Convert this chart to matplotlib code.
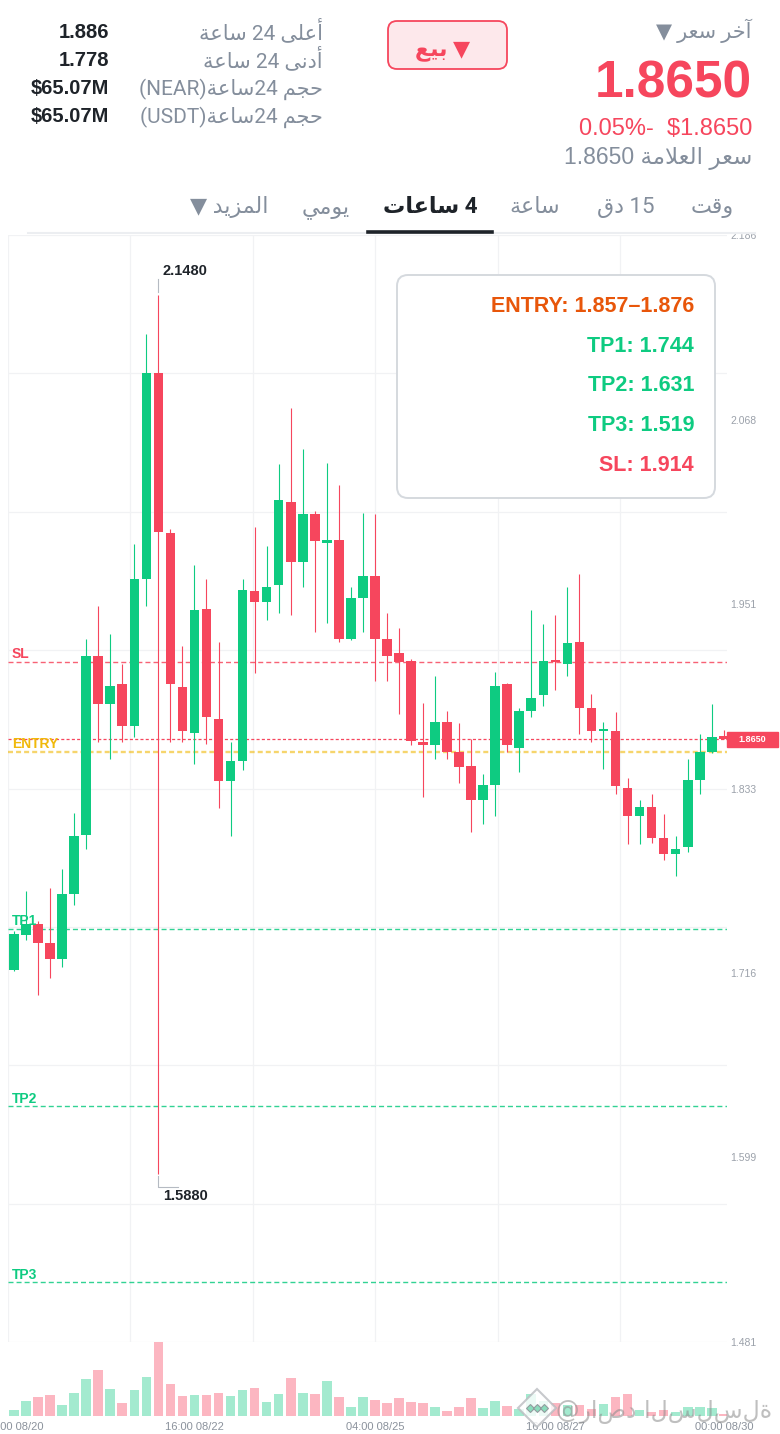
import numpy as np
import matplotlib
matplotlib.use("Agg")
import matplotlib.pyplot as plt
import matplotlib.transforms as mtransforms
from matplotlib.patches import Rectangle, FancyBboxPatch
from matplotlib.lines import Line2D

# ---- data (NEAR/USDT, 4h candles) ----
opens = [1.718, 1.740, 1.747, 1.735, 1.725, 1.766, 1.804, 1.918, 1.887, 1.900,
         1.873, 1.967, 2.098, 1.996, 1.898, 1.869, 1.948, 1.878, 1.838, 1.851,
         1.959, 1.952, 1.963, 2.016, 1.978, 2.008, 1.990, 1.992, 1.929, 1.955,
         1.969, 1.929, 1.920, 1.915, 1.863, 1.861, 1.876, 1.857, 1.848, 1.826,
         1.836, 1.900, 1.859, 1.883, 1.893, 1.915, 1.913, 1.927, 1.885, 1.870,
         1.870, 1.834, 1.816, 1.822, 1.802, 1.792, 1.796, 1.839, 1.857, 1.867]
highs = [1.743, 1.768, 1.749, 1.770, 1.782, 1.818, 1.929, 1.950, 1.932, 1.913,
         1.989, 2.123, 2.148, 1.999, 1.924, 1.976, 1.967, 1.927, 1.863, 1.967,
         2.000, 1.988, 2.040, 2.076, 2.050, 2.010, 2.041, 2.027, 1.962, 2.009,
         2.008, 1.945, 1.936, 1.916, 1.888, 1.905, 1.883, 1.875, 1.865, 1.843,
         1.908, 1.901, 1.885, 1.947, 1.938, 1.944, 1.962, 1.970, 1.894, 1.876,
         1.882, 1.840, 1.826, 1.830, 1.817, 1.803, 1.852, 1.868, 1.887, 1.871]
lows = [1.717, 1.737, 1.702, 1.713, 1.720, 1.759, 1.795, 1.863, 1.852, 1.863,
        1.866, 1.950, 1.588, 1.863, 1.863, 1.849, 1.862, 1.821, 1.803, 1.845,
        1.907, 1.941, 1.945, 1.944, 1.962, 1.933, 1.939, 1.927, 1.928, 1.933,
        1.902, 1.902, 1.881, 1.861, 1.828, 1.852, 1.852, 1.837, 1.806, 1.811,
        1.816, 1.857, 1.844, 1.879, 1.886, 1.896, 1.905, 1.868, 1.863, 1.846,
        1.830, 1.798, 1.798, 1.799, 1.788, 1.778, 1.793, 1.830, 1.856, 1.865]
closes = [1.741, 1.747, 1.735, 1.725, 1.766, 1.803, 1.918, 1.887, 1.899, 1.873,
          1.967, 2.098, 1.997, 1.900, 1.870, 1.947, 1.879, 1.838, 1.851, 1.960,
          1.952, 1.962, 2.017, 1.978, 2.008, 1.991, 1.991, 1.929, 1.955, 1.969,
          1.929, 1.918, 1.914, 1.864, 1.861, 1.876, 1.857, 1.847, 1.826, 1.836,
          1.899, 1.861, 1.883, 1.891, 1.915, 1.914, 1.926, 1.885, 1.870, 1.871,
          1.835, 1.816, 1.822, 1.802, 1.792, 1.795, 1.839, 1.857, 1.866, 1.865]
volumes = [18, 44, 58, 63, 34, 69, 113, 140, 82, 39,
           77, 119, 223, 95, 59, 63, 63, 69, 60, 78,
           84, 43, 67, 115, 69, 67, 106, 58, 28, 56,
           48, 40, 55, 42, 38, 27, 15, 26, 54, 24,
           44, 29, 22, 67, 45, 40, 32, 32, 22, 35,
           57, 66, 18, 13, 18, 12, 28, 28, 24, 6]

xtick_idx = [0, 15, 30, 45, 59]
xtick_labels = ["04:00 08/20", "16:00 08/22", "04:00 08/25", "16:00 08/27", "00:00 08/30"]
ytick_values = [1.481, 1.599, 1.716, 1.833, 1.951, 2.068, 2.186]

level_names = ["SL", "ENTRY", "TP1", "TP2", "TP3"]
level_values = [1.914, 1.857, 1.744, 1.631, 1.519]
last_price = 1.8650

box_lines = ["ENTRY: 1.857–1.876", "TP1: 1.744", "TP2: 1.631", "TP3: 1.519", "SL: 1.914"]

stat_values = ["1.886", "1.778", "$65.07M", "$65.07M"]

GREEN = "#0ecb81"
RED = "#f6465d"
YELLOW = "#f0b90b"
GREY = "#848e9c"
DARK = "#1e2329"

# ---- tiny arabic shaper (presentation forms, visual order) ----
FORMS = {
    'ا': ('\uFE8D', '\uFE8E', None, None), 'أ': ('\uFE83', '\uFE84', None, None),
    'آ': ('\uFE81', '\uFE82', None, None), 'ب': ('\uFE8F', '\uFE90', '\uFE91', '\uFE92'),
    'ة': ('\uFE93', '\uFE94', None, None), 'ت': ('\uFE95', '\uFE96', '\uFE97', '\uFE98'),
    'ج': ('\uFE9D', '\uFE9E', '\uFE9F', '\uFEA0'), 'ح': ('\uFEA1', '\uFEA2', '\uFEA3', '\uFEA4'),
    'خ': ('\uFEA5', '\uFEA6', '\uFEA7', '\uFEA8'), 'د': ('\uFEA9', '\uFEAA', None, None),
    'ر': ('\uFEAD', '\uFEAE', None, None), 'ز': ('\uFEAF', '\uFEB0', None, None),
    'س': ('\uFEB1', '\uFEB2', '\uFEB3', '\uFEB4'), 'ع': ('\uFEC9', '\uFECA', '\uFECB', '\uFECC'),
    'ق': ('\uFED5', '\uFED6', '\uFED7', '\uFED8'), 'ل': ('\uFEDD', '\uFEDE', '\uFEDF', '\uFEE0'),
    'م': ('\uFEE1', '\uFEE2', '\uFEE3', '\uFEE4'), 'ن': ('\uFEE5', '\uFEE6', '\uFEE7', '\uFEE8'),
    'و': ('\uFEED', '\uFEEE', None, None), 'ى': ('\uFEEF', '\uFEF0', None, None),
    'ي': ('\uFEF1', '\uFEF2', '\uFEF3', '\uFEF4'),
}
LAM_ALEF = {'ا': ('\uFEFB', '\uFEFC'), 'أ': ('\uFEF7', '\uFEF8'), 'آ': ('\uFEF5', '\uFEF6')}


def ar(text):
    out = []
    i = 0
    while i < len(text):
        ch = text[i]
        if ch not in FORMS:
            out.append(ch)
            i += 1
            continue
        prev = text[i - 1] if i > 0 else ''
        joins_prev = prev in FORMS and FORMS[prev][2] is not None
        if ch == 'ل' and i + 1 < len(text) and text[i + 1] in LAM_ALEF:
            out.append(LAM_ALEF[text[i + 1]][1 if joins_prev else 0])
            i += 2
            continue
        nxt = text[i + 1] if i + 1 < len(text) else ''
        joins_next = nxt in FORMS and FORMS[ch][2] is not None
        iso, fin, ini, med = FORMS[ch]
        if joins_prev and joins_next:
            out.append(med)
        elif joins_prev:
            out.append(fin)
        elif joins_next:
            out.append(ini)
        else:
            out.append(iso)
        i += 1
    return ''.join(reversed(out))


plt.rcParams['font.family'] = ['Roboto', 'DejaVu Sans']
plt.rcParams['lines.scale_dashes'] = False

W, H = 780, 1434
fig = plt.figure(figsize=(W / 100, H / 100), dpi=100)
fig.patch.set_facecolor("white")


def fx(x):
    return x / W


def fy(y):
    return 1 - y / H


def txt(x, y, s, **kw):
    return fig.text(fx(x), fy(y), s, **kw)


# ---- axes ----
ax = fig.add_axes([fx(8), fy(1342), fx(727) - fx(8), fy(235) - fy(1342)])
axv = fig.add_axes([fx(8), fy(1416), fx(727) - fx(8), fy(1342) - fy(1416)])
step = 12.03  # px per candle
xmax = -0.5 + 719 / step
for a in (ax, axv):
    a.set_xlim(-0.5, xmax)
    for s in a.spines.values():
        s.set_visible(False)
    a.set_facecolor("none")
ax.set_ylim(ytick_values[0], ytick_values[-1])
axv.set_ylim(0, max(volumes))

# grid
for g in np.linspace(ytick_values[0], ytick_values[-1], 9):
    ax.axhline(g, color="#f1f2f4", lw=0.9, zorder=0)
for k in range(6):
    ax.axvline(-0.5 + k * 122.4 / step, color="#f1f2f4", lw=0.9, zorder=0)

# candles
x = np.arange(len(opens))
up = np.array(closes) >= np.array(opens)
cols = np.where(up, GREEN, RED)
ax.vlines(x, lows, highs, colors=cols, lw=0.8, zorder=3)
bodies = np.maximum(np.abs(np.array(closes) - np.array(opens)), 0.0016)
ax.bar(x, bodies, bottom=np.minimum(opens, closes), width=0.8, color=cols, zorder=4)

# volume
vcols = np.where(up, "#a3eacf", "#fcb6c1")
axv.bar(x, volumes, width=0.8, color=vcols)

# level lines
level_colors = [RED, YELLOW, GREEN, GREEN, GREEN]
for name, val, c in zip(level_names, level_values, level_colors):
    if name == "ENTRY":
        ax.axhline(val, color=c, lw=1.7, alpha=0.6, dashes=(3.6, 2.2), zorder=2)
    else:
        ax.axhline(val, color=c, lw=1.0, alpha=0.85, dashes=(3.6, 2.2), zorder=2)
    ax.annotate(name, xy=(4 / 719, val), xycoords=ax.get_yaxis_transform(),
                xytext=(0, 2.6), textcoords="offset points", ha="left", va="baseline",
                fontsize=10, fontweight="bold", color=c, family="Liberation Sans", zorder=6)
ax.axhline(last_price, color=RED, lw=0.9, dashes=(2.2, 1.6), zorder=2)

# price tag
th = 7.5 * 0.705 / 1107
ax.add_patch(Rectangle((1.0, last_price - th), 51 / 719, 2 * th,
                       transform=ax.get_yaxis_transform(), color=RED, clip_on=False, zorder=6))
ax.text(1.0 + 25.5 / 719, last_price, f"{last_price:.4f}", transform=ax.get_yaxis_transform(),
        ha="center", va="center", color="white", fontsize=6.5, fontweight="bold",
        family="Liberation Sans", zorder=7, clip_on=False)

# ticks
ax.yaxis.tick_right()
ax.set_yticks(ytick_values)
ax.set_yticklabels([f"{v:.3f}" for v in ytick_values])
ax.tick_params(axis="y", length=0, pad=2.3, labelsize=7.5, labelcolor="#9ba1aa")
ax.set_xticks([])
axv.set_yticks([])
axv.set_xticks(xtick_idx)
axv.set_xticklabels(xtick_labels)
axv.tick_params(axis="x", length=0, pad=4.5, labelsize=8, labelcolor="#8b929c")
for lab in axv.get_xticklabels():
    lab.set_family("Liberation Sans")
for lab in ax.get_yticklabels():
    lab.set_family("Liberation Sans")

# high / low markers
ih = int(np.argmax(highs))
il = int(np.argmin(lows))


def pt_trans(i, v):
    return (mtransforms.Affine2D().scale(1 / 72) + fig.dpi_scale_trans
            + mtransforms.ScaledTranslation(i, v, ax.transData))


th_hi = pt_trans(ih, highs[ih])
ax.plot([0, 0], [2.0, 11.3], color="#b5bac2", lw=0.8, transform=th_hi, clip_on=False, zorder=5)
ax.text(3.0, 14.2, f"{highs[ih]:.4f}", transform=th_hi, ha="left", va="baseline",
        fontsize=10.5, fontweight="bold", color=DARK, family="Liberation Sans")
th_lo = pt_trans(il, lows[il])
ax.plot([0, 0, 14], [-1.4, -9.4, -9.4], color="#b5bac2", lw=0.8, transform=th_lo,
        clip_on=False, zorder=5)
ax.text(3.2, -18.5, f"{lows[il]:.4f}", transform=th_lo, ha="left", va="baseline",
        fontsize=10.5, fontweight="bold", color=DARK, family="Liberation Sans")

# ---- header ----
fig.add_artist(Rectangle((0, fy(232.5)), 1, 1 - fy(232.5), transform=fig.transFigure,
                         color="white", zorder=0.5))
fig.add_artist(Line2D([fx(28), fx(755)], [fy(233)] * 2, color="#eceef1", lw=1.5, zorder=2))
fig.add_artist(Line2D([fx(368), fx(492)], [fy(231.5)] * 2, color=DARK, lw=2.6, zorder=2.5))

txt(752, 38, "▼ " + ar("آخر سعر"), ha="right", va="baseline", fontsize=15, color=GREY)
txt(752, 97, f"{last_price:.4f}", ha="right", va="baseline", fontsize=37, fontweight="bold",
    color=RED, family="Liberation Sans")
txt(752, 135, "0.05%-  $1.8650", ha="right", va="baseline", fontsize=17, color=RED,
    family="Liberation Sans")
txt(752, 164, f"{last_price:.4f} " + ar("سعر العلامة"), ha="right", va="baseline",
    fontsize=16.5, color=GREY, family=["Liberation Sans", "DejaVu Sans"])

fig.add_artist(FancyBboxPatch((3.88, (H - 69) / 100), 1.19, 0.48,
                              boxstyle="round,pad=0,rounding_size=0.09",
                              transform=fig.dpi_scale_trans, fc="#fde8eb", ec=RED, lw=1.3, zorder=2))
txt(443, 55, ar("بيع") + " ▼", ha="center", va="baseline", fontsize=16, fontweight="bold",
    color=RED)

stat_labels = [ar("ساعة") + " 24 " + ar("أعلى"),
               ar("ساعة") + " 24 " + ar("أدنى"),
               "(NEAR)" + ar("ساعة") + "24 " + ar("حجم"),
               "(USDT)" + ar("ساعة") + "24 " + ar("حجم")]
for k, (lab, val) in enumerate(zip(stat_labels, stat_values)):
    yb = 39 + k * 28
    txt(323, yb, lab, ha="right", va="baseline", fontsize=15, color=GREY)
    txt(109, yb - 1, val, ha="right", va="baseline", fontsize=14.5, fontweight="bold",
        color=DARK, family="Liberation Sans")

tabs = [(712, ar("وقت")), (626, ar("دق") + " 15"), (535, ar("ساعة")),
        (430, ar("ساعات") + " 4"), (326, ar("يومي")), (229, "▼ " + ar("المزيد"))]
for cx, lab in tabs:
    sel = cx == 430
    txt(cx, 213, lab, ha="center", va="baseline", fontsize=16,
        fontweight="bold" if sel else "normal", color=DARK if sel else GREY)

# ---- info box ----
fig.add_artist(FancyBboxPatch((3.97, (H - 498) / 100), 3.18, 2.23,
                              boxstyle="round,pad=0,rounding_size=0.11",
                              transform=fig.dpi_scale_trans, fc="white", ec="#d5d9de", lw=1.4, zorder=2))
box_colors = ["#e8560a", GREEN, GREEN, GREEN, RED]
for k, (line, c) in enumerate(zip(box_lines, box_colors)):
    txt(694, 312 + k * 39.7, line, ha="right", va="baseline", fontsize=15.5, fontweight="bold",
        color=c, family="Liberation Sans", zorder=3)

# ---- watermark (drawn unshaped, left to right) ----
fig.add_artist(Line2D([fx(537)], [fy(1408)], marker="D", ms=19, mfc="white", mec="#b9bcc0",
                      mew=1.5, alpha=0.8, zorder=3))
fig.add_artist(Line2D([fx(530), fx(537), fx(544)], [fy(1408)] * 3, ls="none", marker="D", ms=4.5,
                      mfc="#7fd9b5", mec="#8f9499", mew=0.8, alpha=0.9, zorder=3))
txt(556, 1412, "@راصد السلسلة", ha="left", va="center", fontsize=17,
    color="#8c8c8c", alpha=0.55, family="DejaVu Sans", zorder=3)

fig.savefig("out.png", dpi=100, facecolor="white")
